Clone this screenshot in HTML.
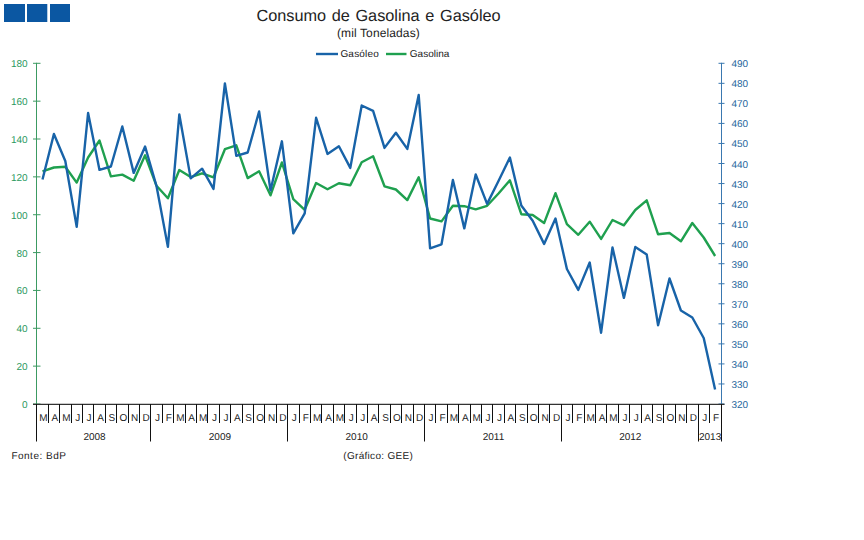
<!DOCTYPE html>
<html><head><meta charset="utf-8"><style>
html,body{margin:0;padding:0;background:#fff;}
svg{display:block;font-family:"Liberation Sans",sans-serif;font-size:10px;fill:#222;text-rendering:geometricPrecision;}
</style></head><body>
<svg width="864" height="540" viewBox="0 0 864 540">
<rect width="864" height="540" fill="#fff"/>
<rect x="4" y="4" width="21" height="18" fill="#0b57a2"/><rect x="27" y="4" width="20.3" height="18" fill="#0b57a2"/><rect x="50" y="4" width="20" height="18" fill="#0b57a2"/>
<line x1="36.5" y1="62.80" x2="36.5" y2="404.00" stroke="#3c9a62" stroke-width="1"/>
<line x1="33" y1="63.30" x2="40.5" y2="63.30" stroke="#3c9a62" stroke-width="1"/>
<text x="27.60" y="67.30" text-anchor="end" fill="#2a9960">180</text>
<line x1="33" y1="101.16" x2="40.5" y2="101.16" stroke="#3c9a62" stroke-width="1"/>
<text x="27.60" y="105.16" text-anchor="end" fill="#2a9960">160</text>
<line x1="33" y1="139.01" x2="40.5" y2="139.01" stroke="#3c9a62" stroke-width="1"/>
<text x="27.60" y="143.01" text-anchor="end" fill="#2a9960">140</text>
<line x1="33" y1="176.87" x2="40.5" y2="176.87" stroke="#3c9a62" stroke-width="1"/>
<text x="27.60" y="180.87" text-anchor="end" fill="#2a9960">120</text>
<line x1="33" y1="214.72" x2="40.5" y2="214.72" stroke="#3c9a62" stroke-width="1"/>
<text x="27.60" y="218.72" text-anchor="end" fill="#2a9960">100</text>
<line x1="33" y1="252.58" x2="40.5" y2="252.58" stroke="#3c9a62" stroke-width="1"/>
<text x="27.60" y="256.58" text-anchor="end" fill="#2a9960">80</text>
<line x1="33" y1="290.43" x2="40.5" y2="290.43" stroke="#3c9a62" stroke-width="1"/>
<text x="27.60" y="294.43" text-anchor="end" fill="#2a9960">60</text>
<line x1="33" y1="328.29" x2="40.5" y2="328.29" stroke="#3c9a62" stroke-width="1"/>
<text x="27.60" y="332.29" text-anchor="end" fill="#2a9960">40</text>
<line x1="33" y1="366.14" x2="40.5" y2="366.14" stroke="#3c9a62" stroke-width="1"/>
<text x="27.60" y="370.14" text-anchor="end" fill="#2a9960">20</text>
<line x1="33" y1="404.00" x2="40.5" y2="404.00" stroke="#3c9a62" stroke-width="1"/>
<text x="27.60" y="408.00" text-anchor="end" fill="#2a9960">0</text>
<line x1="721.5" y1="62.80" x2="721.5" y2="404.00" stroke="#3a78b0" stroke-width="1"/>
<line x1="718.5" y1="63.30" x2="724.5" y2="63.30" stroke="#3a78b0" stroke-width="1"/>
<text x="731.50" y="67.30" fill="#27679d">490</text>
<line x1="718.5" y1="83.34" x2="724.5" y2="83.34" stroke="#3a78b0" stroke-width="1"/>
<text x="731.50" y="87.34" fill="#27679d">480</text>
<line x1="718.5" y1="103.38" x2="724.5" y2="103.38" stroke="#3a78b0" stroke-width="1"/>
<text x="731.50" y="107.38" fill="#27679d">470</text>
<line x1="718.5" y1="123.42" x2="724.5" y2="123.42" stroke="#3a78b0" stroke-width="1"/>
<text x="731.50" y="127.42" fill="#27679d">460</text>
<line x1="718.5" y1="143.46" x2="724.5" y2="143.46" stroke="#3a78b0" stroke-width="1"/>
<text x="731.50" y="147.46" fill="#27679d">450</text>
<line x1="718.5" y1="163.51" x2="724.5" y2="163.51" stroke="#3a78b0" stroke-width="1"/>
<text x="731.50" y="167.51" fill="#27679d">440</text>
<line x1="718.5" y1="183.55" x2="724.5" y2="183.55" stroke="#3a78b0" stroke-width="1"/>
<text x="731.50" y="187.55" fill="#27679d">430</text>
<line x1="718.5" y1="203.59" x2="724.5" y2="203.59" stroke="#3a78b0" stroke-width="1"/>
<text x="731.50" y="207.59" fill="#27679d">420</text>
<line x1="718.5" y1="223.63" x2="724.5" y2="223.63" stroke="#3a78b0" stroke-width="1"/>
<text x="731.50" y="227.63" fill="#27679d">410</text>
<line x1="718.5" y1="243.67" x2="724.5" y2="243.67" stroke="#3a78b0" stroke-width="1"/>
<text x="731.50" y="247.67" fill="#27679d">400</text>
<line x1="718.5" y1="263.71" x2="724.5" y2="263.71" stroke="#3a78b0" stroke-width="1"/>
<text x="731.50" y="267.71" fill="#27679d">390</text>
<line x1="718.5" y1="283.75" x2="724.5" y2="283.75" stroke="#3a78b0" stroke-width="1"/>
<text x="731.50" y="287.75" fill="#27679d">380</text>
<line x1="718.5" y1="303.79" x2="724.5" y2="303.79" stroke="#3a78b0" stroke-width="1"/>
<text x="731.50" y="307.79" fill="#27679d">370</text>
<line x1="718.5" y1="323.84" x2="724.5" y2="323.84" stroke="#3a78b0" stroke-width="1"/>
<text x="731.50" y="327.84" fill="#27679d">360</text>
<line x1="718.5" y1="343.88" x2="724.5" y2="343.88" stroke="#3a78b0" stroke-width="1"/>
<text x="731.50" y="347.88" fill="#27679d">350</text>
<line x1="718.5" y1="363.92" x2="724.5" y2="363.92" stroke="#3a78b0" stroke-width="1"/>
<text x="731.50" y="367.92" fill="#27679d">340</text>
<line x1="718.5" y1="383.96" x2="724.5" y2="383.96" stroke="#3a78b0" stroke-width="1"/>
<text x="731.50" y="387.96" fill="#27679d">330</text>
<line x1="718.5" y1="404.00" x2="724.5" y2="404.00" stroke="#3a78b0" stroke-width="1"/>
<text x="731.50" y="408.00" fill="#27679d">320</text>
<line x1="33" y1="404.4" x2="724.5" y2="404.4" stroke="#333" stroke-width="1.3"/>
<line x1="36.50" y1="404.00" x2="36.50" y2="441.5" stroke="#111" stroke-width="1"/>
<line x1="48.50" y1="404.00" x2="48.50" y2="423" stroke="#111" stroke-width="1"/>
<line x1="59.50" y1="404.00" x2="59.50" y2="423" stroke="#111" stroke-width="1"/>
<line x1="71.50" y1="404.00" x2="71.50" y2="423" stroke="#111" stroke-width="1"/>
<line x1="82.50" y1="404.00" x2="82.50" y2="423" stroke="#111" stroke-width="1"/>
<line x1="93.50" y1="404.00" x2="93.50" y2="423" stroke="#111" stroke-width="1"/>
<line x1="105.50" y1="404.00" x2="105.50" y2="423" stroke="#111" stroke-width="1"/>
<line x1="116.50" y1="404.00" x2="116.50" y2="423" stroke="#111" stroke-width="1"/>
<line x1="128.50" y1="404.00" x2="128.50" y2="423" stroke="#111" stroke-width="1"/>
<line x1="139.50" y1="404.00" x2="139.50" y2="423" stroke="#111" stroke-width="1"/>
<line x1="150.50" y1="404.00" x2="150.50" y2="441.5" stroke="#111" stroke-width="1"/>
<line x1="162.50" y1="404.00" x2="162.50" y2="423" stroke="#111" stroke-width="1"/>
<line x1="173.50" y1="404.00" x2="173.50" y2="423" stroke="#111" stroke-width="1"/>
<line x1="185.50" y1="404.00" x2="185.50" y2="423" stroke="#111" stroke-width="1"/>
<line x1="196.50" y1="404.00" x2="196.50" y2="423" stroke="#111" stroke-width="1"/>
<line x1="207.50" y1="404.00" x2="207.50" y2="423" stroke="#111" stroke-width="1"/>
<line x1="219.50" y1="404.00" x2="219.50" y2="423" stroke="#111" stroke-width="1"/>
<line x1="230.50" y1="404.00" x2="230.50" y2="423" stroke="#111" stroke-width="1"/>
<line x1="242.50" y1="404.00" x2="242.50" y2="423" stroke="#111" stroke-width="1"/>
<line x1="253.50" y1="404.00" x2="253.50" y2="423" stroke="#111" stroke-width="1"/>
<line x1="264.50" y1="404.00" x2="264.50" y2="423" stroke="#111" stroke-width="1"/>
<line x1="276.50" y1="404.00" x2="276.50" y2="423" stroke="#111" stroke-width="1"/>
<line x1="287.50" y1="404.00" x2="287.50" y2="441.5" stroke="#111" stroke-width="1"/>
<line x1="299.50" y1="404.00" x2="299.50" y2="423" stroke="#111" stroke-width="1"/>
<line x1="310.50" y1="404.00" x2="310.50" y2="423" stroke="#111" stroke-width="1"/>
<line x1="321.50" y1="404.00" x2="321.50" y2="423" stroke="#111" stroke-width="1"/>
<line x1="333.50" y1="404.00" x2="333.50" y2="423" stroke="#111" stroke-width="1"/>
<line x1="344.50" y1="404.00" x2="344.50" y2="423" stroke="#111" stroke-width="1"/>
<line x1="356.50" y1="404.00" x2="356.50" y2="423" stroke="#111" stroke-width="1"/>
<line x1="367.50" y1="404.00" x2="367.50" y2="423" stroke="#111" stroke-width="1"/>
<line x1="378.50" y1="404.00" x2="378.50" y2="423" stroke="#111" stroke-width="1"/>
<line x1="390.50" y1="404.00" x2="390.50" y2="423" stroke="#111" stroke-width="1"/>
<line x1="401.50" y1="404.00" x2="401.50" y2="423" stroke="#111" stroke-width="1"/>
<line x1="413.50" y1="404.00" x2="413.50" y2="423" stroke="#111" stroke-width="1"/>
<line x1="424.50" y1="404.00" x2="424.50" y2="441.5" stroke="#111" stroke-width="1"/>
<line x1="435.50" y1="404.00" x2="435.50" y2="423" stroke="#111" stroke-width="1"/>
<line x1="447.50" y1="404.00" x2="447.50" y2="423" stroke="#111" stroke-width="1"/>
<line x1="458.50" y1="404.00" x2="458.50" y2="423" stroke="#111" stroke-width="1"/>
<line x1="470.50" y1="404.00" x2="470.50" y2="423" stroke="#111" stroke-width="1"/>
<line x1="481.50" y1="404.00" x2="481.50" y2="423" stroke="#111" stroke-width="1"/>
<line x1="492.50" y1="404.00" x2="492.50" y2="423" stroke="#111" stroke-width="1"/>
<line x1="504.50" y1="404.00" x2="504.50" y2="423" stroke="#111" stroke-width="1"/>
<line x1="515.50" y1="404.00" x2="515.50" y2="423" stroke="#111" stroke-width="1"/>
<line x1="527.50" y1="404.00" x2="527.50" y2="423" stroke="#111" stroke-width="1"/>
<line x1="538.50" y1="404.00" x2="538.50" y2="423" stroke="#111" stroke-width="1"/>
<line x1="549.50" y1="404.00" x2="549.50" y2="423" stroke="#111" stroke-width="1"/>
<line x1="561.50" y1="404.00" x2="561.50" y2="441.5" stroke="#111" stroke-width="1"/>
<line x1="572.50" y1="404.00" x2="572.50" y2="423" stroke="#111" stroke-width="1"/>
<line x1="584.50" y1="404.00" x2="584.50" y2="423" stroke="#111" stroke-width="1"/>
<line x1="595.50" y1="404.00" x2="595.50" y2="423" stroke="#111" stroke-width="1"/>
<line x1="606.50" y1="404.00" x2="606.50" y2="423" stroke="#111" stroke-width="1"/>
<line x1="618.50" y1="404.00" x2="618.50" y2="423" stroke="#111" stroke-width="1"/>
<line x1="629.50" y1="404.00" x2="629.50" y2="423" stroke="#111" stroke-width="1"/>
<line x1="641.50" y1="404.00" x2="641.50" y2="423" stroke="#111" stroke-width="1"/>
<line x1="652.50" y1="404.00" x2="652.50" y2="423" stroke="#111" stroke-width="1"/>
<line x1="663.50" y1="404.00" x2="663.50" y2="423" stroke="#111" stroke-width="1"/>
<line x1="675.50" y1="404.00" x2="675.50" y2="423" stroke="#111" stroke-width="1"/>
<line x1="686.50" y1="404.00" x2="686.50" y2="423" stroke="#111" stroke-width="1"/>
<line x1="698.50" y1="404.00" x2="698.50" y2="441.5" stroke="#111" stroke-width="1"/>
<line x1="709.50" y1="404.00" x2="709.50" y2="423" stroke="#111" stroke-width="1"/>
<line x1="721.50" y1="404.00" x2="721.50" y2="441.5" stroke="#111" stroke-width="1"/>
<text x="43.50" y="421.00" text-anchor="middle">M</text>
<text x="54.90" y="421.00" text-anchor="middle">A</text>
<text x="66.30" y="421.00" text-anchor="middle">M</text>
<text x="77.70" y="421.00" text-anchor="middle">J</text>
<text x="89.10" y="421.00" text-anchor="middle">J</text>
<text x="100.50" y="421.00" text-anchor="middle">A</text>
<text x="111.90" y="421.00" text-anchor="middle">S</text>
<text x="123.30" y="421.00" text-anchor="middle">O</text>
<text x="134.70" y="421.00" text-anchor="middle">N</text>
<text x="146.10" y="421.00" text-anchor="middle">D</text>
<text x="157.50" y="421.00" text-anchor="middle">J</text>
<text x="168.90" y="421.00" text-anchor="middle">F</text>
<text x="180.30" y="421.00" text-anchor="middle">M</text>
<text x="191.70" y="421.00" text-anchor="middle">A</text>
<text x="203.10" y="421.00" text-anchor="middle">M</text>
<text x="214.50" y="421.00" text-anchor="middle">J</text>
<text x="225.90" y="421.00" text-anchor="middle">J</text>
<text x="237.30" y="421.00" text-anchor="middle">A</text>
<text x="248.70" y="421.00" text-anchor="middle">S</text>
<text x="260.10" y="421.00" text-anchor="middle">O</text>
<text x="271.50" y="421.00" text-anchor="middle">N</text>
<text x="282.90" y="421.00" text-anchor="middle">D</text>
<text x="294.30" y="421.00" text-anchor="middle">J</text>
<text x="305.70" y="421.00" text-anchor="middle">F</text>
<text x="317.10" y="421.00" text-anchor="middle">M</text>
<text x="328.50" y="421.00" text-anchor="middle">A</text>
<text x="339.90" y="421.00" text-anchor="middle">M</text>
<text x="351.30" y="421.00" text-anchor="middle">J</text>
<text x="362.70" y="421.00" text-anchor="middle">J</text>
<text x="374.10" y="421.00" text-anchor="middle">A</text>
<text x="385.50" y="421.00" text-anchor="middle">S</text>
<text x="396.90" y="421.00" text-anchor="middle">O</text>
<text x="408.30" y="421.00" text-anchor="middle">N</text>
<text x="419.70" y="421.00" text-anchor="middle">D</text>
<text x="431.10" y="421.00" text-anchor="middle">J</text>
<text x="442.50" y="421.00" text-anchor="middle">F</text>
<text x="453.90" y="421.00" text-anchor="middle">M</text>
<text x="465.30" y="421.00" text-anchor="middle">A</text>
<text x="476.70" y="421.00" text-anchor="middle">M</text>
<text x="488.10" y="421.00" text-anchor="middle">J</text>
<text x="499.50" y="421.00" text-anchor="middle">J</text>
<text x="510.90" y="421.00" text-anchor="middle">A</text>
<text x="522.30" y="421.00" text-anchor="middle">S</text>
<text x="533.70" y="421.00" text-anchor="middle">O</text>
<text x="545.10" y="421.00" text-anchor="middle">N</text>
<text x="556.50" y="421.00" text-anchor="middle">D</text>
<text x="567.90" y="421.00" text-anchor="middle">J</text>
<text x="579.30" y="421.00" text-anchor="middle">F</text>
<text x="590.70" y="421.00" text-anchor="middle">M</text>
<text x="602.10" y="421.00" text-anchor="middle">A</text>
<text x="613.50" y="421.00" text-anchor="middle">M</text>
<text x="624.90" y="421.00" text-anchor="middle">J</text>
<text x="636.30" y="421.00" text-anchor="middle">J</text>
<text x="647.70" y="421.00" text-anchor="middle">A</text>
<text x="659.10" y="421.00" text-anchor="middle">S</text>
<text x="670.50" y="421.00" text-anchor="middle">O</text>
<text x="681.90" y="421.00" text-anchor="middle">N</text>
<text x="693.30" y="421.00" text-anchor="middle">D</text>
<text x="704.70" y="421.00" text-anchor="middle">J</text>
<text x="716.10" y="421.00" text-anchor="middle">F</text>
<text x="94.50" y="440.00" text-anchor="middle">2008</text>
<text x="219.90" y="440.00" text-anchor="middle">2009</text>
<text x="356.70" y="440.00" text-anchor="middle">2010</text>
<text x="493.50" y="440.00" text-anchor="middle">2011</text>
<text x="630.30" y="440.00" text-anchor="middle">2012</text>
<text x="710.10" y="440.00" text-anchor="middle">2013</text>
<polyline points="42.50,171.30 53.90,167.50 65.30,166.70 76.70,182.60 88.10,157.50 99.50,140.50 110.90,176.40 122.30,174.60 133.70,180.80 145.10,155.30 156.50,185.80 167.90,198.30 179.30,170.00 190.70,177.10 202.10,173.30 213.50,177.30 224.90,149.20 236.30,145.30 247.70,178.10 259.10,171.30 270.50,195.30 281.90,162.50 293.30,199.20 304.70,209.80 316.10,183.00 327.50,189.30 338.90,183.30 350.30,185.30 361.70,162.30 373.10,156.20 384.50,186.30 395.90,189.50 407.30,200.10 418.70,177.20 430.10,218.50 441.50,221.40 452.90,205.80 464.30,206.20 475.70,209.40 487.10,205.80 498.50,193.50 509.90,180.30 521.30,214.20 532.70,215.00 544.10,223.10 555.50,193.20 566.90,224.20 578.30,234.80 589.70,221.70 601.10,238.90 612.50,220.00 623.90,225.30 635.30,210.00 646.70,200.30 658.10,234.30 669.50,233.00 680.90,241.30 692.30,223.00 703.70,237.50 715.10,256.00" fill="none" stroke="#1fa04f" stroke-width="2.4" stroke-linejoin="round" stroke-linecap="butt"/>
<polyline points="42.50,179.50 53.90,134.00 65.30,161.00 76.70,226.90 88.10,113.00 99.50,169.90 110.90,166.50 122.30,126.50 133.70,172.90 145.10,146.50 156.50,186.00 167.90,246.90 179.30,114.50 190.70,178.40 202.10,168.70 213.50,188.90 224.90,83.50 236.30,155.90 247.70,152.50 259.10,111.50 270.50,190.40 281.90,141.30 293.30,233.40 304.70,213.30 316.10,117.80 327.50,153.90 338.90,146.30 350.30,167.90 361.70,105.50 373.10,110.80 384.50,147.90 395.90,132.80 407.30,148.90 418.70,95.00 430.10,248.40 441.50,244.30 452.90,180.00 464.30,228.40 475.70,174.50 487.10,203.90 498.50,181.00 509.90,157.50 521.30,205.50 532.70,220.80 544.10,243.90 555.50,218.50 566.90,269.00 578.30,289.90 589.70,262.50 601.10,332.70 612.50,247.50 623.90,297.90 635.30,247.00 646.70,254.50 658.10,325.20 669.50,278.50 680.90,310.50 692.30,317.50 703.70,338.00 715.10,389.50" fill="none" stroke="#1863a8" stroke-width="2.4" stroke-linejoin="round" stroke-linecap="butt"/>
<line x1="316" y1="54" x2="338" y2="54" stroke="#1863a8" stroke-width="2.4"/>
<text x="340.40" y="56.80" letter-spacing="0.2">Gasóleo</text>
<line x1="386" y1="54" x2="406.5" y2="54" stroke="#1fa04f" stroke-width="2.4"/>
<text x="409.80" y="56.80" letter-spacing="0.0">Gasolina</text>
<text x="378.50" y="21.00" text-anchor="middle" font-size="16.3" word-spacing="1.1">Consumo de Gasolina e Gasóleo</text>
<text x="378.4" y="36.5" text-anchor="middle" font-size="12" letter-spacing="0.12">(mil Toneladas)</text>
<text x="11.40" y="459.00" letter-spacing="0.5">Fonte: BdP</text>
<text x="343.30" y="459.00" letter-spacing="0.3">(Gráfico: GEE)</text>
</svg>
</body></html>
